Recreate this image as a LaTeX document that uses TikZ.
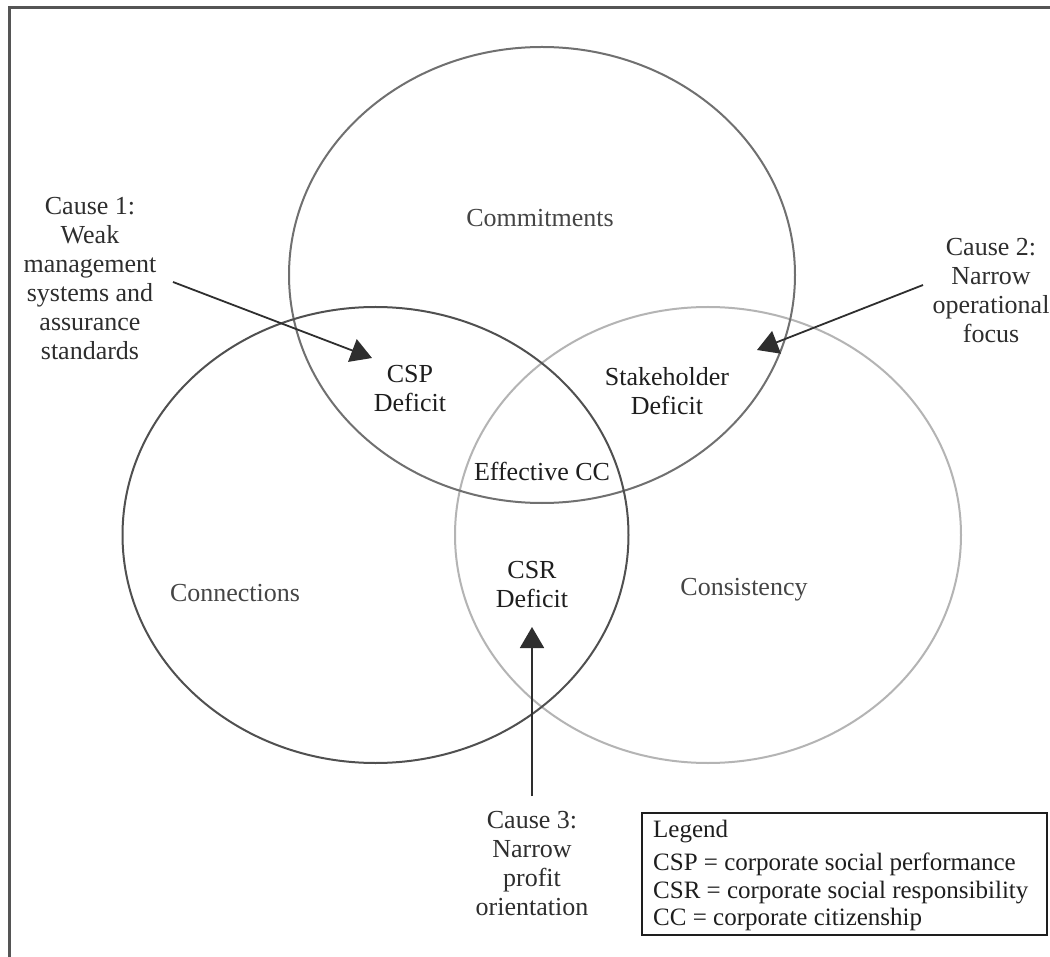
\documentclass[tikz,border=0pt]{standalone}
\usepackage{fontspec}
\setmainfont{Liberation Serif}
\usetikzlibrary{arrows.meta}
\definecolor{framegray}{HTML}{555555}
\definecolor{commitgray}{HTML}{707070}
\definecolor{connectgray}{HTML}{505050}
\definecolor{consistgray}{HTML}{B4B4B4}
\definecolor{labelgray}{HTML}{454545}
\definecolor{causegray}{HTML}{2E2E2E}
\definecolor{deficitgray}{HTML}{1E1E1E}
\tikzset{
  bigfont/.style={font=\fontsize{26}{29}\selectfont},
  regionlabel/.style={bigfont, text=labelgray, inner sep=0pt, anchor=base},
  deficitlabel/.style={bigfont, text=deficitgray, inner sep=0pt, align=center},
  causelabel/.style={bigfont, text=causegray, inner sep=0pt, align=center},
  legendtext/.style={font=\fontsize{25}{28}\selectfont, text=deficitgray, inner sep=0pt, anchor=base west},
  setring/.style={line width=2pt},
  causearrow/.style={line width=1.8pt, draw=causegray, -{Triangle[width=24pt,length=21pt]}},
}
\begin{document}
\begin{tikzpicture}[x=1pt,y=-1pt]
\useasboundingbox (0,0) rectangle (1050,957);
\fill[white] (0,0) rectangle (1050,957);
% frame (cropped at right and bottom)
\draw[framegray, line width=2.4pt] (9.5,957) -- (9.5,7.5) -- (1050,7.5);

% the three sets
\draw[setring, draw=consistgray] (708,535) ellipse [x radius=253, y radius=228];
\draw[setring, draw=commitgray] (542,275) ellipse [x radius=253, y radius=228];
\draw[setring, draw=connectgray] (375.5,535) ellipse [x radius=253, y radius=228];

% region labels
\node[regionlabel] (commit) at (540,227) {Commitments};
\node[regionlabel] (connect) at (235,601) {Connections};
\node[regionlabel] (consist) at (744,595) {Consistency};

% deficits
\node[deficitlabel] (csp) at (410,389) {CSP\\Deficit};
\node[deficitlabel] (stake) at (667,391.5) {Stakeholder\\Deficit};
\node[deficitlabel] (csr) at (532,585) {CSR\\Deficit};
\node[bigfont, text=deficitgray, inner sep=0pt, anchor=base] (effcc) at (542,480) {Effective CC};

% causes
\node[causelabel] (cause1) at (90,278.7) {Cause 1:\\Weak\\management\\systems and\\assurance\\standards};
\node[causelabel] (cause2) at (991,290.7) {Cause 2:\\Narrow\\operational\\focus};
\node[causelabel] (cause3) at (532,863.7) {Cause 3:\\Narrow\\profit\\orientation};

% arrow ends
\coordinate (a1s) at (173,282);
\coordinate (a1e) at (372,358);
\coordinate (a2s) at (923,285);
\coordinate (a2e) at (757,350);
\coordinate (a3s) at (532,796);
\coordinate (a3e) at (532,627);
\draw[causearrow] (a1s) -- (a1e);
\draw[causearrow] (a2s) -- (a2e);
\draw[causearrow] (a3s) -- (a3e);

% legend
\draw[line width=2pt, draw=deficitgray] (642,813) rectangle (1047,935);
\node[legendtext] (leg) at (653,837) {Legend};
\node[legendtext] (legcsp) at (653,870) {CSP = corporate social performance};
\node[legendtext] (legcsr) at (653,898) {CSR = corporate social responsibility};
\node[legendtext] (legcc) at (653,925) {CC = corporate citizenship};
\end{tikzpicture}
\end{document}
